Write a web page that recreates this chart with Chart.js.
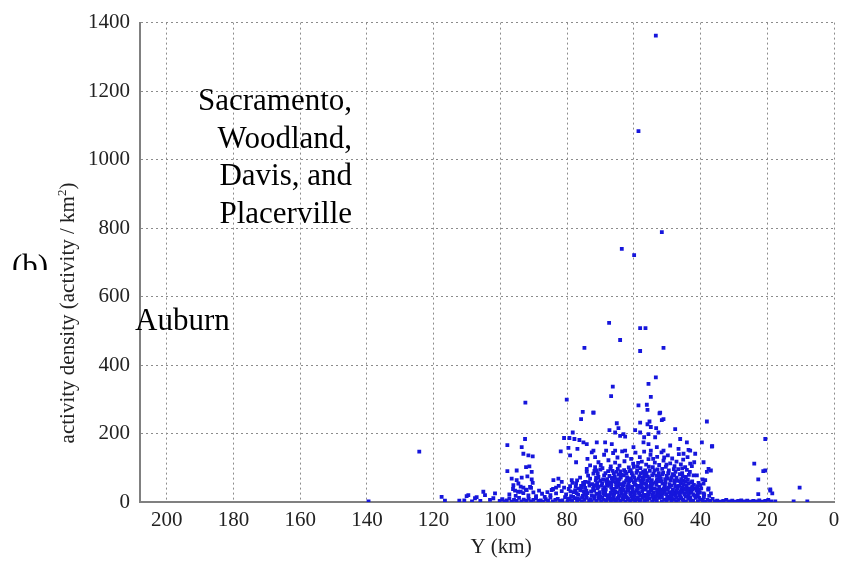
<!DOCTYPE html>
<html>
<head>
<meta charset="utf-8">
<script src="https://cdn.jsdelivr.net/npm/chart.js@4.4.0/dist/chart.umd.min.js"></script>
<style>
  html, body { margin: 0; padding: 0; background: #fff; }
  canvas { display: block; }
</style>
</head>
<body>
<canvas id="chart" width="845" height="565"></canvas>
<script>
//
// ==========  data (Y km, activity / km2)  ==========
//
const xTicks = [0, 20, 40, 60, 80, 100, 120, 140, 160, 180, 200];
const yTicks = [0, 200, 400, 600, 800, 1000, 1200, 1400];

const xTitle = "Y (km)";
const yTitle = ["activity density (activity / km", "2", ")"];
const cityLines = ["Sacramento,", "Woodland,", "Davis, and", "Placerville"];
const auburnLabel = "Auburn";
const panelLabel = "(b)";

// band along the bottom, x 100 -> 36
const baselinePts = [
  [100.2,3],[99.4,8],[98.8,2],[98.1,5],[97.3,10],[96.6,1],[95.9,6],[95.1,3],[94.4,12],[93.7,2],
  [93.0,7],[92.2,4],[91.5,9],[90.8,2],[90.1,6],[89.3,11],[88.6,3],[87.9,5],[87.2,1],[86.4,8],
  [85.7,4],[85.0,13],[84.3,2],[83.5,6],[82.8,9],[82.1,3],[81.4,5],[80.6,14],[79.9,2],[79.2,7],
  [78.5,4],[77.7,11],[77.0,3],[76.3,8],[75.6,2],[74.8,6],[74.1,12],[73.4,4],[72.7,1],[71.9,9],
  [71.2,5],[70.5,13],[69.8,2],[69.0,7],[68.3,4],[67.6,10],[66.9,1],[66.1,6],[65.4,3],[64.7,12],
  [64.0,5],[63.2,8],[62.5,2],[61.8,11],[61.1,4],[60.3,7],[59.6,1],[58.9,9],[58.2,5],[57.4,13],
  [56.7,3],[56.0,6],[55.3,10],[54.5,2],[53.8,8],[53.1,4],[52.4,12],[51.6,1],[50.9,7],[50.2,5],
  [49.5,10],[48.7,3],[48.0,8],[47.3,2],[46.6,6],[45.8,11],[45.1,4],[44.4,1],[43.7,9],[42.9,5],
  [42.2,3],[41.5,12],[40.8,2],[40.0,7],[39.3,4],[38.6,1],[37.9,6],[37.1,3],[36.4,9],[35.7,2],
  [79.7,10],[78.2,15],[76.9,9],[75.5,13],[74.3,16],[73.0,8],[71.7,17],[70.3,9],[69.1,25],[67.5,14],
  [66.2,22],[64.9,10],[63.6,24],[62.2,14],[60.9,23],[59.3,8],[58.0,19],[56.6,15],[55.5,22],[54.0,11],
  [52.8,18],[51.3,24],[50.0,16],[48.6,12],[47.4,19],[46.0,14],[44.7,22],[43.1,12],[41.8,19],[40.4,12],
  [39.0,14],[37.4,18]
];

// thin tails on both sides of the main cloud
const tailPts = [
  [35.0,4],[34.1,1],[33.2,3],[32.3,6],[31.4,2],[30.5,4],[29.6,1],[28.7,3],[27.8,5],[26.9,2],
  [26.0,4],[25.1,1],[24.2,3],[23.3,2],[22.4,5],[21.5,1],[20.6,3],[19.7,6],[18.8,2],[17.6,2],
  [12.1,2],[8.0,2],
  [101.6,25],[102.1,11],[103.1,6],[104.6,20],[105.1,30],[107.1,14],[109.6,20],[112.3,4],
  [116.6,4],[117.6,15],[106.0,3],[108.5,2],[110.8,5],[110.1,17],[107.6,11],[139.5,2]
];

// dense part, y up to ~70
const lowCloudPts = [
  [80.3,22],[79.5,38],[78.8,17],[78.0,29],[77.4,45],[76.7,21],[76.0,34],[75.3,18],[74.6,41],[73.9,26],
  [73.3,48],[72.6,19],[71.9,33],[71.2,24],[70.6,44],[69.9,16],[69.2,37],[68.6,28],[67.9,47],[67.2,20],
  [66.5,35],[65.9,25],[65.2,43],[64.5,17],[63.8,31],[63.2,49],[62.5,22],[61.8,38],[61.1,27],[60.5,45],
  [59.8,18],[59.1,33],[58.4,24],[57.8,42],[57.1,16],[56.4,36],[55.7,29],[55.1,47],[54.4,21],[53.7,39],
  [53.0,26],[52.4,44],[51.7,18],[51.0,32],[50.3,23],[49.7,41],[49.0,17],[48.3,35],[47.6,27],[47.0,46],
  [46.3,20],[45.6,37],[44.9,25],[44.3,43],[43.6,19],[42.9,31],[42.2,22],[41.6,40],[40.9,17],[40.2,28],
  [79.0,31],[77.1,26],[75.8,47],[74.2,33],[72.2,38],[70.2,29],[68.2,20],[66.8,42],[65.6,31],[64.1,38],
  [62.9,16],[61.5,48],[60.1,29],[58.8,39],[57.5,31],[56.1,21],[54.8,33],[53.4,17],[52.1,36],[50.7,46],
  [49.4,29],[48.1,22],[46.8,39],[45.3,30],[44.0,34],[42.5,45],[41.2,33],[39.8,40],[38.9,22],[37.7,36],
  [69.5,12],[68.7,21],[67.8,9],[66.9,27],[66.0,15],[65.1,6],[64.2,19],[63.3,11],[62.4,29],[61.5,8],
  [60.6,17],[59.7,25],[58.8,13],[57.9,6],[57.0,21],[56.1,11],[55.2,28],[54.3,15],[53.4,7],[52.5,23],
  [51.6,13],[50.7,30],[49.8,9],[48.9,18],[48.0,26],[47.1,12],[46.2,21],[45.3,7],[44.4,16],[43.5,24],
  [68.1,54],[66.3,60],[64.6,47],[62.9,57],[61.2,41],[59.5,50],[57.8,58],[56.1,44],[54.4,53],[52.7,61],
  [51.0,40],[49.3,52],[47.6,44],[45.9,55],[44.2,48],[42.5,60],[70.9,40],[72.8,31],[74.7,23],[76.6,39],
  [78.4,56],[77.0,63],[75.6,42],[73.5,58],[71.0,55],[69.7,48],[68.0,67],[66.7,52],[65.0,66],[63.4,42],
  [61.9,67],[60.0,58],[58.5,47],[57.3,70],[55.9,62],[54.7,44],[53.2,50],[51.9,68],[50.5,58],[49.2,44],
  [47.9,63],[46.4,47],[45.1,62],[43.7,54],[42.0,50],[40.6,56],[39.4,66],
  [75.0,30],[72.0,45],[69.0,33],[66.0,38],[63.0,35],[60.3,36],[57.6,48],[55.0,38],[52.3,31],[49.9,36],
  [47.3,34],[44.8,38],[42.7,28],[40.5,36],
  [77.6,34],[74.9,51],[71.5,49],[68.8,43],[65.3,51],[62.0,45],[59.0,43],[56.8,55],[54.0,27],[51.4,54],
  [48.8,48],[46.0,30],[43.2,40],[41.0,46],
  [70.4,20],[68.4,36],[66.6,10],[64.8,28],[63.1,20],[61.6,33],[60.2,12],[58.6,28],[57.2,40],[55.8,16],
  [54.6,40],[53.0,35],[51.8,27],[50.2,38],[48.5,27],[46.9,28],[45.5,43],[44.0,28],[42.4,37],[40.8,24]
];

// y ~50 to ~150
const midCloudPts = [
  [76.1,71],[75.2,56],[74.6,59],[74.1,88],[73.1,68],[72.5,52],[72.1,83],[71.4,63],[70.6,73],[70.0,95],
  [69.5,55],[68.9,78],[68.3,62],[67.7,90],[67.1,51],[66.6,70],[66.0,84],[65.4,58],[64.8,97],[64.3,66],
  [63.7,79],[63.1,53],[62.6,88],[62.0,72],[61.4,60],[60.9,93],[60.3,77],[59.7,55],[59.2,85],[58.6,68],
  [58.0,99],[57.5,61],[56.9,80],[56.3,52],[55.8,74],[55.2,91],[54.6,64],[54.1,83],[53.5,57],[52.9,95],
  [52.4,70],[51.8,60],[51.2,86],[50.7,53],[50.1,76],[49.5,92],[49.0,63],[48.4,81],[47.8,55],[47.2,71],
  [46.7,96],[46.1,60],[45.5,84],[45.0,52],[44.4,73],[43.8,65],[43.2,88],[42.7,57],[42.1,78],
  [73.7,77],[71.8,91],[69.2,66],[67.4,58],[65.7,75],[64.0,89],[62.3,62],[60.6,84],[58.3,75],[56.6,92],
  [54.9,58],[53.2,77],[51.5,97],[49.8,68],[47.5,88],[45.8,67],[44.1,94],[61.7,51],[59.4,64],[57.2,88],
  [84.1,64],[82.6,68],[83.3,42],[84.6,35],[81.6,59],[80.9,42],[79.1,46],[78.6,64],[77.3,54],
  [70.8,83],[67.0,97],[63.9,71],[60.0,103],[57.9,84],[55.5,103],[52.5,84],[50.2,109],[48.0,96],[45.5,98],
  [62.9,93],[65.2,88],[69.4,99],[58.7,114],[54.2,126],[50.9,130],[56.5,76],[61.0,69],[64.5,80],[53.0,67],
  [71.3,70],[70.1,62],[68.5,84],[67.3,76],[66.4,91],[65.8,68],[64.6,58],[63.9,52],[63.0,78],[62.2,83],
  [61.3,90],[60.7,63],[59.9,72],[59.0,92],[58.1,63],[57.0,66],[56.2,84],[55.4,69],[54.5,78],[53.8,92],
  [53.1,62],[52.2,75],[51.4,81],[50.6,67],[49.7,84],[48.7,72],[47.9,78],[47.0,62],[46.2,81],[45.3,74],
  [44.5,61],[43.5,79],
  [71.6,131],[71.1,92],[73.9,126],[70.6,116],[69.9,108],[68.9,138],[67.6,122],[66.9,104],
  [66.2,143],[65.6,115],[64.9,130],[64.3,106],[63.5,148],[62.8,119],[62.1,135],[61.5,101],[60.8,126],
  [60.2,112],[59.5,144],[58.9,104],[58.2,131],[57.6,118],[56.9,147],[56.3,109],[55.6,125],[55.0,138],
  [54.3,102],[53.7,115],[53.0,132],[52.4,108],[51.7,145],[51.1,121],[50.4,103],[49.8,136],[49.1,113],
  [48.5,127],[47.8,105],[47.2,118],[46.5,140],[45.9,110],[45.2,124],[44.6,102],[43.9,131],[43.1,112],
  [42.6,105],[74.1,97],[73.1,107],[71.6,102],[77.3,116],[79.1,136]
];

// sparse points above the cloud
const upperCloudPts = [
  [78.3,203],[80.9,187],[79.3,187],[77.8,184],[76.3,181],[75.1,174],[74.1,169],[81.9,148],[79.6,158],
  [76.9,155],[72.6,145],[72.1,261],[52.1,261],[51.6,239],[58.1,232],[55.9,227],[54.9,219],[55.3,235],
  [67.3,210],[65.6,203],[64.1,193],[63.1,198],[62.6,191],[64.6,216],[59.6,210],[58.1,203],[56.9,189],
  [55.6,198],[53.6,189],[52.6,203],[53.3,216],[47.6,213],[46.1,184],[44.1,174],[43.6,152],[41.6,141],
  [68.6,174],[66.6,169],[68.3,150],[65.6,150],[71.1,174],[72.1,150],[62.6,150],[60.1,160],[57.1,174],
  [55.6,169],[54.9,150],[53.1,160],[51.1,150],[49.1,165],[46.6,155],[45.1,141],[43.1,150]
];

// small cluster around 85-98 km
const westClusterPts = [
  [97.3,22],[96.2,38],[95.4,18],[94.7,30],[93.9,45],[93.1,26],[92.4,36],[91.6,19],[90.8,41],[90.1,28],
  [89.3,17],[88.4,33],[87.5,24],[86.7,15],[85.9,29],[85.0,20],[84.2,38],[83.3,25],[82.5,47],[81.6,32],
  [95.6,33],[93.9,30],[92.1,35],[96.1,49],[94.6,54],[93.1,42],[91.1,44],[90.3,56],
  [93.6,160],[93.1,141],[91.6,136],[90.3,133],[97.9,90],[95.1,92],[92.3,102],[90.6,88],[91.3,104],
  [96.6,68],[95.1,64],[93.6,71],[91.9,75],[90.6,66],[92.6,184],[97.9,166]
];

// group near 36-42 km and the scatter further east
const eastGroupPts = [
  [39.6,174],[36.6,162],[41.9,116],[39.1,116],[37.6,97],[38.1,88],[36.9,92],[38.6,64],[39.1,54],
  [40.1,49],[37.6,40],[41.1,78],[42.6,40],[36.9,25],[39.1,25],[38.1,235],[36.5,163],
  [20.6,184],[23.9,112],[21.2,90],[20.6,92],[22.7,66],[19.1,33],[18.5,25],[22.7,23],[10.3,42],[19.1,37]
];

// the high values
const outlierPts = [
  [53.4,1362],[58.6,1083],[51.6,788],[63.6,739],[59.9,721],[67.4,523],[58.1,508],[56.5,508],
  [64.1,473],[74.8,450],[58.1,441],[51.1,450],[53.4,364],[55.6,345],[66.3,337],[66.8,309],
  [54.9,307],[92.5,290],[80.1,299],[58.6,282],[56.1,284],[55.9,269],[75.3,263],[72.1,261],
  [75.8,242],[52.3,259],[51.1,242],[65.1,230],[124.3,147]
];

const allPts = [].concat(
  baselinePts, tailPts, lowCloudPts, midCloudPts,
  upperCloudPts, westClusterPts, eastGroupPts, outlierPts
);

//
// ==========  text drawn on top (city notes, panel mark, axis titles)  ==========
//
const textPlugin = {
  id: "textNotes",
  afterDraw(chart) {
    const ctx = chart.ctx;
    ctx.save();
    ctx.fillStyle = "#000";
    ctx.font = "31px 'Liberation Serif'";
    ctx.textBaseline = "alphabetic";

    ctx.textAlign = "right";
    cityLines.forEach((t, i) => ctx.fillText(t, 352, 110 + i * 37.7));

    ctx.textAlign = "left";
    ctx.fillText(auburnLabel, 135, 330);

    // panel mark, lower half is cut off in the original
    ctx.save();
    ctx.beginPath();
    ctx.rect(0, 0, 120, 270);
    ctx.clip();
    ctx.fillText(panelLabel, 12, 276);
    ctx.restore();

    // x title
    ctx.fillStyle = "#222";
    ctx.font = "21px 'Liberation Serif'";
    ctx.textAlign = "center";
    ctx.fillText(xTitle, 501, 553);

    // y title with superscript 2
    ctx.translate(74, 313);
    ctx.rotate(-Math.PI / 2);
    ctx.textAlign = "left";
    const supFont = "13px 'Liberation Serif'";
    const mainFont = "21px 'Liberation Serif'";
    ctx.font = mainFont;
    const w1 = ctx.measureText(yTitle[0]).width;
    const w3 = ctx.measureText(yTitle[2]).width;
    ctx.font = supFont;
    const w2 = ctx.measureText(yTitle[1]).width;
    let x0 = -(w1 + w2 + w3) / 2;
    ctx.font = mainFont;
    ctx.fillText(yTitle[0], x0, 0);
    ctx.font = supFont;
    ctx.fillText(yTitle[1], x0 + w1, -8);
    ctx.font = mainFont;
    ctx.fillText(yTitle[2], x0 + w1 + w2, 0);
    ctx.restore();
  }
};

//
// ==========  chart  ==========
//
const tickFont = { family: "'Liberation Serif'", size: 21 };

new Chart(document.getElementById("chart"), {
  type: "scatter",
  data: {
    datasets: [{
      data: allPts.map(p => ({ x: p[0], y: p[1] })),
      pointStyle: "rect",
      pointRadius: 2.7,
      pointHoverRadius: 2.7,
      backgroundColor: "#1616dc",
      borderWidth: 0
    }]
  },
  options: {
    responsive: false,
    animation: false,
    layout: { padding: { left: 0, top: 17, right: 11, bottom: 0 } },
    plugins: { legend: { display: false }, tooltip: { enabled: false } },
    scales: {
      x: {
        type: "linear",
        reverse: true,
        min: 0,
        max: 208,
        afterBuildTicks: s => { s.ticks = xTicks.map(v => ({ value: v })); },
        afterFit: s => { s.height = 63; },
        grid: { color: "#8c8c8c", lineWidth: 1, drawTicks: false },
        border: { display: true, color: "#808080", width: 2, dash: [2, 3] },
        ticks: { font: tickFont, color: "#222", padding: 6, maxRotation: 0, autoSkip: false,
                 callback: v => String(v) }
      },
      y: {
        type: "linear",
        min: 0,
        max: 1400,
        afterBuildTicks: s => { s.ticks = yTicks.map(v => ({ value: v })); },
        afterFit: s => { s.width = 140; },
        grid: { color: "#8c8c8c", lineWidth: 1, drawTicks: false },
        border: { display: true, color: "#808080", width: 2, dash: [2, 3] },
        ticks: { font: tickFont, color: "#222", padding: 10, callback: v => String(v) }
      }
    }
  },
  plugins: [textPlugin]
});
</script>
</body>
</html>
